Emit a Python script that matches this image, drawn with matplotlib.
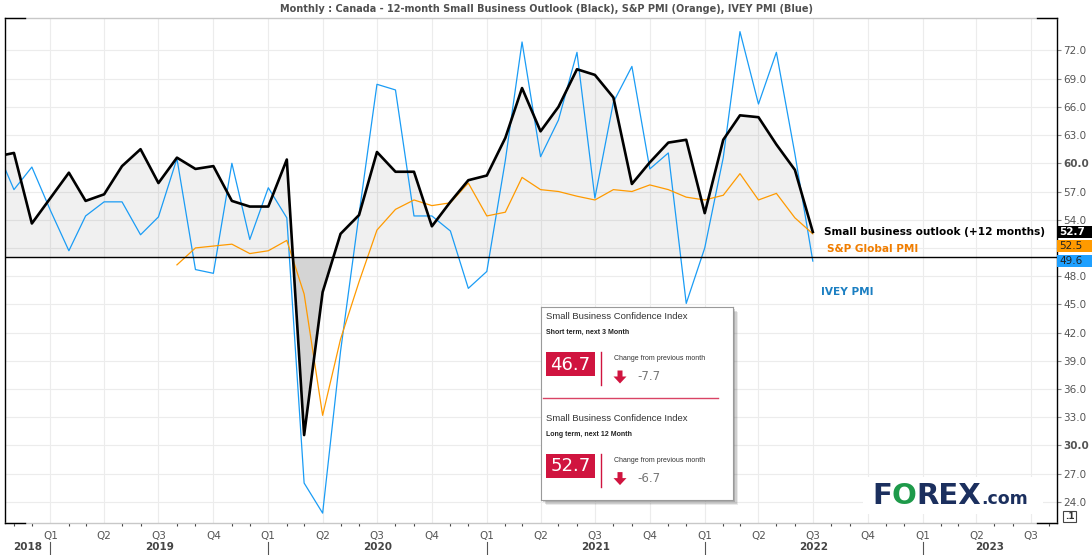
import matplotlib
matplotlib.use('Agg')
import matplotlib.pyplot as plt
import matplotlib.dates as mdates
import matplotlib.patches as mpatches
from matplotlib.lines import Line2D
from matplotlib.transforms import blended_transform_factory
import numpy as np
import pandas as pd

# monthly data, Oct 2018 - Jul 2022
months = pd.date_range('2018-10-01', '2022-07-01', freq='MS')

outlook = [60.7, 61.1, 53.6,
           56.3, 59.0, 56.0, 56.7, 59.7, 61.5, 57.9, 60.6, 59.4, 59.7, 56.0, 55.4,
           55.4, 60.4, 31.1, 46.3, 52.5, 54.5, 61.2, 59.1, 59.1, 53.3, 55.9, 58.2,
           58.7, 62.7, 68.0, 63.4, 66.0, 70.0, 69.4, 67.0, 57.8, 60.1, 62.2, 62.5,
           54.7, 62.5, 65.1, 64.9, 62.0, 59.3, 52.7]

ivey = [61.8, 57.2, 59.6,
        55.0, 50.7, 54.4, 55.9, 55.9, 52.4, 54.3, 60.5, 48.7, 48.3, 60.0, 51.9,
        57.4, 54.2, 26.0, 22.8, 40.0, 54.6, 68.4, 67.8, 54.4, 54.4, 52.8, 46.7,
        48.5, 60.3, 72.9, 60.7, 64.6, 71.8, 56.3, 66.5, 70.3, 59.4, 61.1, 45.1,
        51.0, 60.6, 74.0, 66.3, 71.8, 61.0, 49.6]

spgi = [np.nan] * 10 + [49.2, 51.0, 51.2, 51.4, 50.4,
        50.7, 51.8, 46.1, 33.2, 41.3, 47.4, 52.9, 55.1, 56.1, 55.5, 55.8, 57.9,
        54.4, 54.8, 58.5, 57.2, 57.0, 56.5, 56.1, 57.2, 57.0, 57.7, 57.2, 56.4,
        56.1, 56.6, 58.9, 56.1, 56.8, 54.2, 52.5]

yticks = np.arange(24, 73, 3)
years = [2018, 2019, 2020, 2021, 2022, 2023]

panel_titles = ['Small Business Confidence Index', 'Small Business Confidence Index']
panel_terms = ['Short term, next 3 Month', 'Long term, next 12 Month']
panel_values = [46.7, 52.7]
panel_changes = [-7.7, -6.7]

title = ('Monthly : Canada - 12-month Small Business Outlook (Black), '
         'S&P PMI (Orange), IVEY PMI (Blue)')

W, H = 1092, 555
fig = plt.figure(figsize=(W / 100, H / 100), dpi=100)


def fx(x):
    return x / W


def fy(y):
    return 1 - y / H


BLUE = '#1a9cf5'
ORANGE = '#ff9a00'
RED = '#d0143f'
GRAY = '#555555'

ax = fig.add_axes([fx(5), fy(523), fx(1057) - fx(5), fy(18) - fy(523)])
x0, x1 = pd.Timestamp('2018-10-17'), pd.Timestamp('2023-08-14')
ax.set_xlim(x0, x1)
ax.set_ylim(21.75, 75.45)

ax.grid(True, color='#ececec', lw=0.8, zorder=0)
ax.set_axisbelow(True)

out = np.array(outlook)
ax.fill_between(months, out, 50, where=out >= 50, interpolate=True,
                color='black', alpha=0.06, lw=0, zorder=1)
ax.fill_between(months, out, 50, where=out < 50, interpolate=True,
                color='#d4d4d4', lw=0, zorder=1)

ax.plot(months, ivey, color=BLUE, lw=0.9, zorder=2)
ax.plot(months, spgi, color=ORANGE, lw=0.9, zorder=3)
ax.axhline(50, color='black', lw=1, zorder=3.5)
ax.plot(months, outlook, color='black', lw=1.9, zorder=4)

# y axis on the right (51.0 sits under the value boxes)
ax.yaxis.tick_right()
ax.set_yticks(yticks)
ax.set_yticklabels(['' if v == 51 else f'{v:.1f}' for v in yticks])
ax.tick_params(axis='y', length=3, pad=1.5, color='#888888',
               labelcolor=GRAY, labelsize=7.5)
for lab in ax.get_yticklabels():
    if lab.get_text() in ('30.0', '60.0'):
        lab.set_fontweight('bold')

# x axis: quarters, month ticks, years
ax.xaxis.set_major_locator(mdates.MonthLocator(bymonth=[1, 4, 7, 10]))
ax.xaxis.set_major_formatter(plt.FuncFormatter(
    lambda v, p: 'Q%d' % ((mdates.num2date(v).month - 1) // 3 + 1)))
ax.xaxis.set_minor_locator(mdates.MonthLocator())
ax.tick_params(axis='x', which='major', length=0, pad=6,
               labelcolor=GRAY, labelsize=7.5)
ax.tick_params(axis='x', which='minor', length=2.2, width=0.8, color='#444444')

for s in ('left', 'right'):
    ax.spines[s].set_color('black')
    ax.spines[s].set_linewidth(1)
for s in ('top', 'bottom'):
    ax.spines[s].set_color('#c8c8c8')
    ax.spines[s].set_linewidth(1)
cw = 20 / 1052
for xs in ([0, cw], [1 - cw, 1]):
    for yy in (0, 1):
        ax.plot(xs, [yy, yy], color='black', lw=1, transform=ax.transAxes,
                clip_on=False, zorder=6)

bt = blended_transform_factory(ax.transData, fig.transFigure)
for yr in years:
    a = max(pd.Timestamp(f'{yr}-01-01'), x0)
    b = min(pd.Timestamp(f'{yr + 1}-01-01'), x1)
    fig.text(mdates.date2num(a + (b - a) / 2), fy(547), str(yr), transform=bt,
             ha='center', va='center', fontsize=7.5, fontweight='bold', color='#444444')
    if yr > 2018:
        fig.add_artist(Line2D([mdates.date2num(a)] * 2, [fy(541.5), 0],
                              transform=bt, color='#555555', lw=0.8))

# last-value boxes on the right axis
bb = blended_transform_factory(ax.transAxes, ax.transData)
last = [(outlook[-1], outlook[-1], 'black', 'white'),
        (spgi[-1], spgi[-1] - 1.3, ORANGE, '#222222'),
        (ivey[-1], ivey[-1], '#1ea0ff', '#222222')]
bh = 12 / 9.447
for val, ypos, fc, tc in last:
    ax.add_patch(mpatches.Rectangle((1.0, ypos - bh / 2), 40 / 1052, bh,
                                    transform=bb, facecolor=fc, edgecolor='none',
                                    clip_on=False, zorder=7))
    ax.text(1.0 + 2 / 1052, ypos, f'{val:.1f}', transform=bb, ha='left', va='center',
            fontsize=7.5, color=tc, zorder=8, clip_on=False,
            fontweight='bold' if fc == 'black' else 'normal')

# series labels
ax.annotate('Small business outlook (+12 months)', (months[-1], outlook[-1]),
            xytext=(11, 0), textcoords='offset pixels', ha='left', va='center',
            fontsize=7.6, fontweight='bold', color='black', zorder=8)
ax.annotate('S&P Global PMI', (months[-1], spgi[-1]),
            xytext=(14, -15.5), textcoords='offset pixels', ha='left', va='center',
            fontsize=7.6, fontweight='bold', color='#f07d00', zorder=8)
ax.annotate('IVEY PMI', (months[-1], ivey[-1]),
            xytext=(8, -30.5), textcoords='offset pixels', ha='left', va='center',
            fontsize=7.6, fontweight='bold', color='#1b7fc2', zorder=8)

fig.text(fx(546), fy(9), title, ha='center', va='center', fontsize=7,
         fontweight='bold', color='#505050')

# inset panel with a soft shadow
bx0, by0, bx1, by1 = 541, 307, 733, 500
for off, al in ((5, 0.12), (3.5, 0.18), (2, 0.25)):
    fig.add_artist(mpatches.Rectangle((fx(bx0 + off), fy(by1 + off)),
                                      (bx1 - bx0) / W, (by1 - by0) / H,
                                      transform=fig.transFigure, facecolor='#555555',
                                      alpha=al, edgecolor='none', zorder=1))
iax = fig.add_axes([fx(bx0), fy(by1), (bx1 - bx0) / W, (by1 - by0) / H])
iax.set_zorder(2)
iax.set_facecolor('white')
iax.set_xlim(bx0, bx1)
iax.set_ylim(by1, by0)
iax.set_xticks([])
iax.set_yticks([])
for s in iax.spines.values():
    s.set_color('#9a9a9a')
    s.set_linewidth(0.8)

for k in range(2):
    dy = k * 101.6
    iax.text(546, 316.7 + dy, panel_titles[k], fontsize=6.8, color='#333333',
             va='center', ha='left', family='Liberation Sans')
    iax.text(546, 332.5 + dy, panel_terms[k], fontsize=5, color='#222222',
             va='center', ha='left', fontweight='bold', family='Liberation Sans')
    iax.add_patch(mpatches.Rectangle((546, 352.3 + dy), 49, 24, facecolor=RED,
                                     edgecolor='none'))
    iax.text(570.5, 364.8 + dy, f'{panel_values[k]:.1f}', fontsize=13, color='white',
             ha='center', va='center')
    iax.plot([601, 601], [352 + dy, 385 + dy], color=RED, lw=1)
    iax.text(614, 358.7 + dy, 'Change from previous month', fontsize=5,
             color='#333333', ha='left', va='center', family='Liberation Sans')
    iax.add_patch(mpatches.FancyArrow(620, 370.5 + dy, 0, 13, width=5,
                                      head_width=13, head_length=7,
                                      length_includes_head=True, color=RED, lw=0))
    iax.text(637, 376.5 + dy, f'{panel_changes[k]:.1f}', fontsize=8.5,
             color='#777777', ha='left', va='center')
iax.plot([543, 718], [398.3, 398.3], color=RED, lw=1, alpha=0.8)

# FOREX.com logo
fig.add_artist(mpatches.Rectangle((fx(863), fy(514)), 180 / W, 37.5 / H,
                                  transform=fig.transFigure, facecolor='white',
                                  edgecolor='none', zorder=10))
NAVY = '#1b2f5e'
t1 = fig.text(fx(872), fy(504), 'F', fontsize=21, fontweight='bold', color=NAVY,
              va='baseline', ha='left', zorder=11)
t2 = fig.text(0, 0, 'O', fontsize=21, fontweight='bold', color='#1e9a4a',
              va='baseline', ha='left', zorder=11)
t3 = fig.text(0, 0, 'REX', fontsize=21, fontweight='bold', color=NAVY,
              va='baseline', ha='left', zorder=11)
t4 = fig.text(0, 0, '.com', fontsize=12.5, fontweight='bold', color=NAVY,
              va='baseline', ha='left', zorder=11)
fig.canvas.draw()
r = fig.canvas.get_renderer()
prev = t1
for t in (t2, t3, t4):
    e = prev.get_window_extent(r)
    px = prev.get_position()
    t.set_position((e.x1 / W, px[1]))
    prev = t

fig.text(fx(1069.5), fy(516.5), '.1', fontsize=6.5, fontweight='bold', color='#333333',
         ha='center', va='center',
         bbox=dict(boxstyle='square,pad=0.15', facecolor='white', edgecolor='#444444', lw=0.8))

fig.savefig('out.png', dpi=100, facecolor='white')
